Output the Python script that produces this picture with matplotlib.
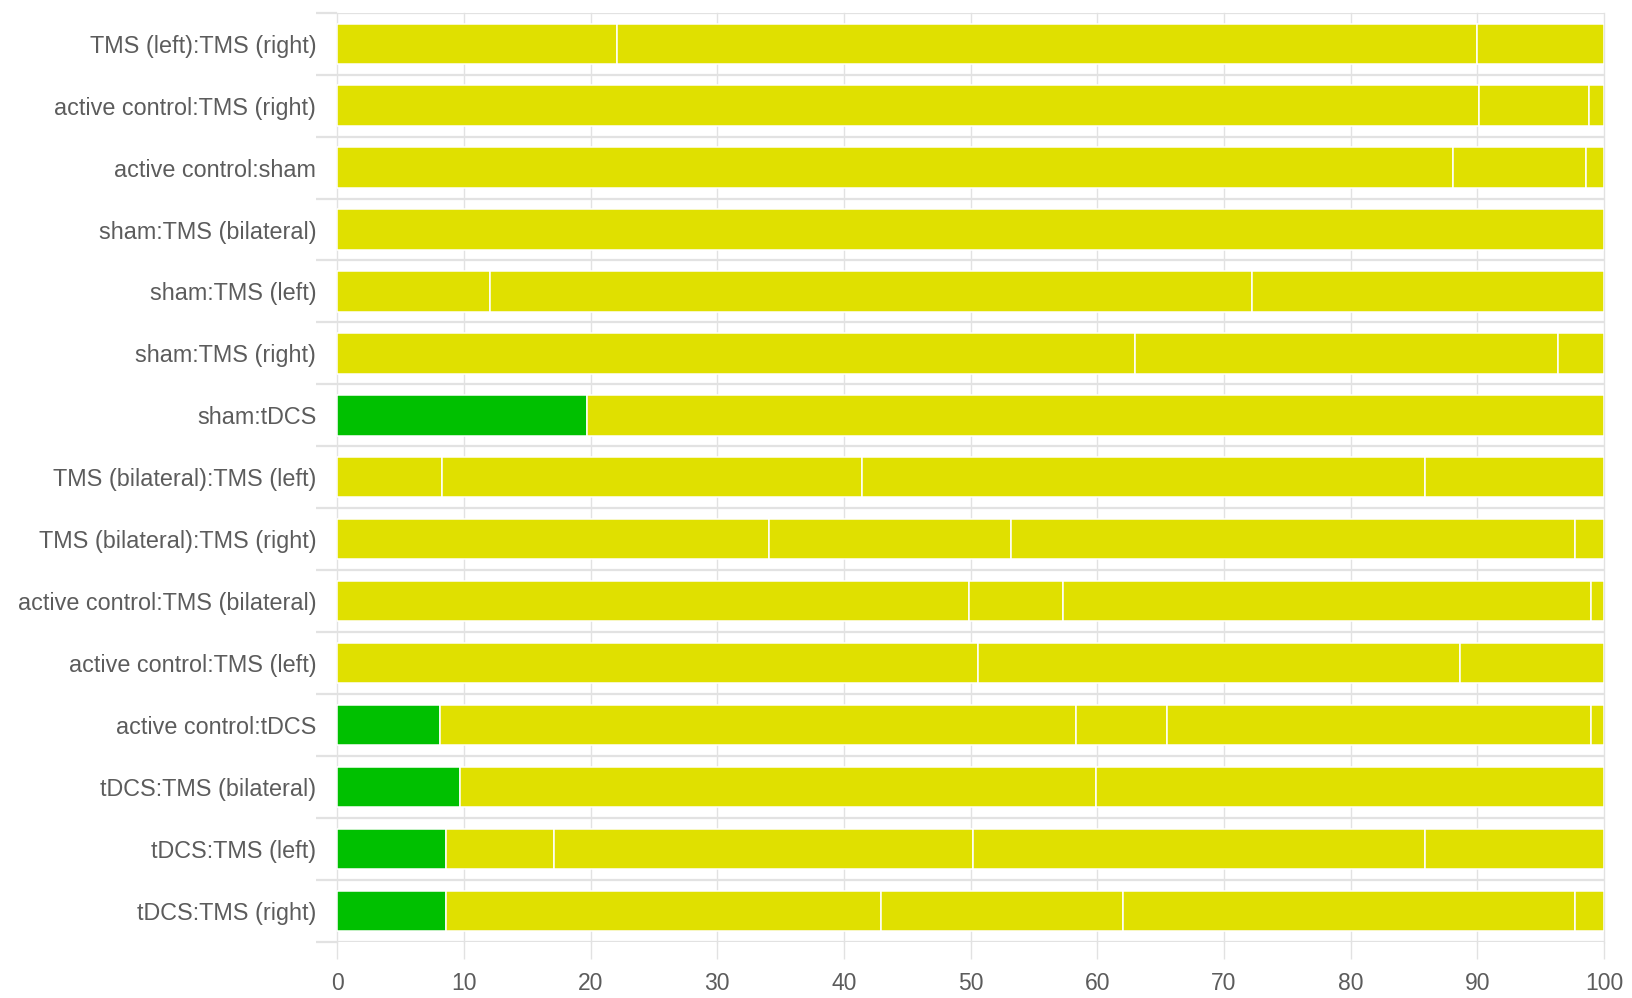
import numpy as np
import matplotlib.pyplot as plt

categories = ['TMS (left):TMS (right)', 'active control:TMS (right)', 'active control:sham',
              'sham:TMS (bilateral)', 'sham:TMS (left)', 'sham:TMS (right)', 'sham:tDCS',
              'TMS (bilateral):TMS (left)', 'TMS (bilateral):TMS (right)',
              'active control:TMS (bilateral)', 'active control:TMS (left)',
              'active control:tDCS', 'tDCS:TMS (bilateral)', 'tDCS:TMS (left)', 'tDCS:TMS (right)']

# first (green) segment, 0 where a row has none
green_part = [0, 0, 0, 0, 0, 0, 19.7, 0, 0, 0, 0, 8.1, 9.7, 8.6, 8.6]
# following yellow segments, left to right
yellow_1 = [22.1, 90.1, 88.1, 100, 12.1, 63.0, 80.3, 8.3, 34.1, 49.9, 50.6, 50.2, 50.2, 8.5, 34.3]
yellow_2 = [67.9, 8.7, 10.5, 0, 60.1, 33.4, 0, 33.1, 19.1, 7.4, 38.0, 7.2, 40.1, 33.1, 19.1]
yellow_3 = [10.0, 1.2, 1.4, 0, 27.8, 3.6, 0, 44.5, 44.5, 41.7, 11.4, 33.5, 0, 35.7, 35.7]
yellow_4 = [0, 0, 0, 0, 0, 0, 0, 14.1, 2.3, 1.0, 0, 1.0, 0, 14.1, 2.3]

green = '#00c000'
yellow = '#e0e000'
grid_c = '#e2e2e2'
text_c = '#5c5c5c'

plt.rcParams['font.family'] = ['Liberation Sans', 'DejaVu Sans']

fig = plt.figure(figsize=(16.32, 9.98), dpi=100)
ax = fig.add_axes([0.2066, 0.0561, 0.7762, 0.9312])

y = np.arange(len(categories))
left = np.zeros(len(categories))
for seg, col in [(green_part, green), (yellow_1, yellow), (yellow_2, yellow),
                 (yellow_3, yellow), (yellow_4, yellow)]:
  seg = np.array(seg, dtype=float)
  keep = seg > 0
  ax.barh(y[keep], seg[keep], left=left[keep], height=0.65, color=col,
          edgecolor='white', linewidth=1.1, zorder=2)
  left = left + seg

ax.set_xlim(0, 100)
ax.set_ylim(len(categories) - 0.5, -0.5)
ax.set_xticks(np.arange(0, 101, 10))
ax.set_yticks(y)
ax.set_yticklabels(categories)
ax.set_yticks(np.arange(-0.5, len(categories)), minor=True)

ax.grid(axis='x', color=grid_c, linewidth=1.0, zorder=0)
ax.grid(axis='y', which='minor', color=grid_c, linewidth=1.6, zorder=0)
ax.grid(axis='y', which='major', visible=False)
for gl in ax.get_xgridlines():
  gl.set_clip_on(False)

ax.tick_params(axis='y', which='major', length=0, pad=15, labelsize=16.8, labelcolor=text_c)
ax.tick_params(axis='y', which='minor', length=15, width=1.6, color=grid_c)
ax.tick_params(axis='x', length=12.5, width=1.0, color=grid_c, pad=9, labelsize=16.5, labelcolor=text_c)

for s in ax.spines.values():
  s.set_visible(False)

plt.savefig('out.png', dpi=100)
